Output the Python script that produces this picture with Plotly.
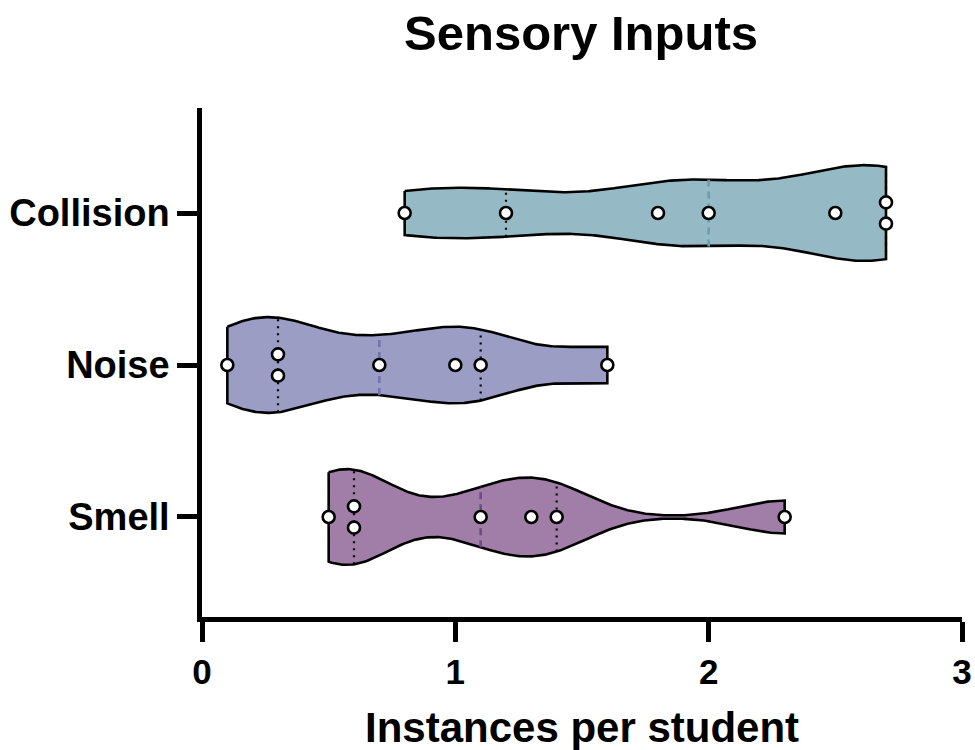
import numpy as np
import plotly.graph_objects as go

# ---- data ----
categories = ["Collision", "Noise", "Smell"]
collision = [0.8, 1.2, 1.8, 2.0, 2.5, 2.7, 2.7]
noise = [0.1, 0.3, 0.3, 0.7, 1.0, 1.1, 1.6]
smell = [0.5, 0.6, 0.6, 1.1, 1.3, 1.4, 2.3]
series = [collision, noise, smell]
bandwidths = [0.27, 0.2, 0.18]
x_ticks = [0, 1, 2, 3]

# ---- styles ----
fills = ["#95BAC5", "#9B9DC4", "#A07EA8"]
median_colors = ["#6A9EAE", "#7274B0", "#704A88"]
cat_pos = [2, 1, 0]
half_width = 0.315
dup_step = 0.07

FONT = "Liberation Sans, Arial, sans-serif"

fig = go.Figure()


def kde(vals, grid, h):
    v = np.asarray(vals, float)
    return np.exp(-0.5 * ((grid[:, None] - v[None, :]) / h) ** 2).sum(axis=1)


for vals, h, fc, mc, yc in zip(series, bandwidths, fills, median_colors, cat_pos):
    v = np.sort(np.asarray(vals, float))
    grid = np.linspace(v.min(), v.max(), 300)
    dens = kde(v, grid, h)
    scale = half_width / dens.max()
    w = dens * scale
    xs = np.concatenate([grid, grid[::-1], grid[:1]])
    ys = np.concatenate([yc + w, (yc - w)[::-1], [yc + w[0]]])
    fig.add_trace(go.Scatter(x=xs, y=ys, mode="lines", fill="toself",
                             fillcolor=fc, line=dict(color="black", width=2.6),
                             hoverinfo="skip", showlegend=False))
    q1, med, q3 = np.percentile(v, [25, 50, 75], method="weibull")
    for q, col, dash, lw in [(q1, "black", "2px,5px", 2.2), (q3, "black", "2px,5px", 2.2),
                             (med, mc, "7px,5px", 2.6)]:
        wq = kde(v, np.array([q]), h)[0] * scale
        fig.add_trace(go.Scatter(x=[q, q], y=[yc - wq, yc + wq], mode="lines",
                                 line=dict(color=col, width=lw, dash=dash),
                                 hoverinfo="skip", showlegend=False))
    # points with duplicate offsets
    px, py = [], []
    uniq, counts = np.unique(v, return_counts=True)
    for u, c in zip(uniq, counts):
        for k in range(c):
            px.append(u)
            py.append(yc - (k - (c - 1) / 2) * 2 * dup_step)
    fig.add_trace(go.Scatter(x=px, y=py, mode="markers",
                             marker=dict(size=12, color="white",
                                         line=dict(color="black", width=2.6)),
                             showlegend=False))

fig.update_layout(
    width=975, height=750,
    margin=dict(l=202, r=13, t=108, b=133, autoexpand=False),
    plot_bgcolor="white", paper_bgcolor="white",
    title=dict(text="Sensory Inputs", x=0.4987, xref="paper",
               y=1 - 33 / 750, yref="container", xanchor="center", yanchor="middle",
               font=dict(family=FONT, size=49, color="black", weight="bold")),
    xaxis=dict(range=[0, 3], tickvals=x_ticks, ticktext=[str(t) for t in x_ticks],
               showline=True, linecolor="black", linewidth=4.5, automargin=False,
               ticks="outside", ticklen=20, tickwidth=4.5, tickcolor="black",
               showgrid=False, zeroline=False,
               tickfont=dict(family=FONT, size=35, color="black", weight="bold")),
    yaxis=dict(range=[-0.658, 2.691], tickvals=cat_pos, ticktext=categories,
               showline=True, linecolor="black", linewidth=4.5, automargin=False,
               ticks="outside", ticklen=20, tickwidth=4.5, tickcolor="black",
               showgrid=False, zeroline=False,
               tickfont=dict(family=FONT, size=38, color="black", weight="bold")),
    annotations=[dict(text="Instances per student", xref="paper", yref="paper",
                      x=0.5, y=-(727 - 617) / 509, xanchor="center", yanchor="middle",
                      showarrow=False,
                      font=dict(family=FONT, size=42, color="black", weight="bold"))],
)

fig.write_html("out.html")
